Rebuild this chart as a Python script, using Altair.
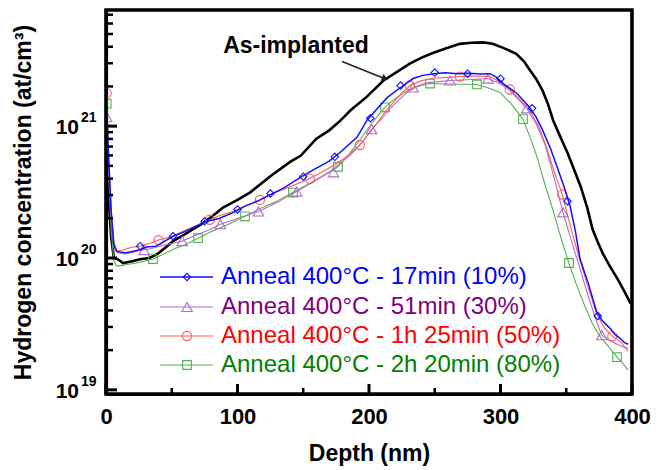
import altair as alt
import pandas as pd

FONT = "Liberation Sans"

# ---------------- data (depth in nm, log10 of concentration in at/cm3) ----------------
asimp_depth = [0.5, 2, 4, 6, 9, 13, 20, 26, 33, 39, 46, 51, 60, 71, 80, 89, 100, 110, 115, 125,
               140, 148, 160, 170, 178, 186, 198, 211, 221, 231, 240, 249, 260, 269, 278, 287, 294,
               303, 312, 318, 322, 327, 332, 336, 340, 345, 351, 356, 361, 366, 370, 374, 378, 383,
               389, 394, 399]
asimp_log = [20.85, 20.45, 20.15, 20.0, 19.99, 19.962, 19.975, 19.99, 20.0, 20.03, 20.085, 20.128,
             20.18, 20.248, 20.31, 20.383, 20.44, 20.5, 20.541, 20.62, 20.729, 20.775, 20.905, 20.97,
             21.04, 21.12, 21.22, 21.346, 21.41, 21.474, 21.52, 21.556, 21.595, 21.624, 21.632,
             21.635, 21.625, 21.59, 21.549, 21.49, 21.43, 21.36, 21.27, 21.17, 21.045, 20.93, 20.797,
             20.67, 20.541, 20.38, 20.218, 20.12, 20.03, 19.94, 19.842, 19.75, 19.654]

a17_depth = [0.5, 2, 4, 6, 8, 10.6, 15, 20, 25, 31, 38, 45, 51, 60, 68, 77, 86, 97, 105, 115, 125,
             135, 147.5, 158, 170, 178, 186, 191, 198.5, 206, 214, 224, 233.5, 241, 249, 258, 267,
             276, 285, 292, 297, 302, 312.5, 322, 327, 332, 338, 343, 348, 353, 357, 360.5, 367,
             373, 377, 381, 384, 387, 391, 394, 397]
a17_log = [21.15, 20.75, 20.35, 20.1, 20.05, 20.045, 20.04, 20.05, 20.06, 20.083, 20.09, 20.13,
           20.165, 20.2, 20.24, 20.278, 20.3, 20.346, 20.39, 20.43, 20.481, 20.53, 20.609, 20.67,
           20.737, 20.8, 20.872, 20.917, 21.045, 21.13, 21.218, 21.293, 21.361, 21.385, 21.398,
           21.405, 21.398, 21.402, 21.395, 21.398, 21.37, 21.323, 21.248, 21.143, 21.07, 20.97,
           20.83, 20.692, 20.55, 20.391, 20.2, 19.992, 19.8, 19.594, 19.53, 19.489, 19.46, 19.42,
           19.391, 19.36, 19.346]

a51_depth = [0.5, 2, 4, 6, 9, 14, 20, 26, 33, 41, 50, 58, 70, 80, 87, 100, 116, 130, 145, 158, 170,
             178, 186, 195, 202, 210, 216, 225, 233.5, 245, 261.6, 275, 290.5, 300, 307, 314, 320,
             327, 334, 341, 347.5, 354, 360.5, 367, 373, 377, 382, 387, 392, 397]
a51_log = [21.07, 20.7, 20.3, 20.08, 20.04, 20.03, 20.04, 20.06, 20.068, 20.09, 20.11, 20.128,
           20.18, 20.22, 20.256, 20.3, 20.353, 20.42, 20.504, 20.58, 20.654, 20.72, 20.782, 20.88,
           20.977, 21.06, 21.135, 21.22, 21.293, 21.33, 21.346, 21.352, 21.361, 21.32, 21.271,
           21.2, 21.135, 21.02, 20.857, 20.6, 20.346, 20.13, 19.917, 19.7, 19.52, 19.414, 19.38,
           19.353, 19.33, 19.316]

a85_depth = [0.5, 2, 4, 6, 8.4, 13, 19, 26, 33, 41, 49, 58, 71.5, 79, 86, 96.6, 107, 117, 125, 140,
             153, 162, 170, 182, 193, 203, 212, 222, 231, 240, 250, 260, 269, 280, 292, 300, 307,
             315, 322, 329, 335, 341, 347, 353, 359, 366, 373, 379, 385, 388, 391, 394, 397]
a85_log = [21.25, 20.8, 20.35, 20.12, 20.053, 20.06, 20.08, 20.09, 20.11, 20.14, 20.158, 20.2,
           20.256, 20.29, 20.32, 20.353, 20.4, 20.44, 20.481, 20.54, 20.594, 20.64, 20.684, 20.76,
           20.857, 20.98, 21.105, 21.22, 21.308, 21.345, 21.365, 21.37, 21.376, 21.38, 21.376,
           21.33, 21.278, 21.2, 21.12, 21.0, 20.84, 20.65, 20.481, 20.25, 20.03, 19.8, 19.579,
           19.47, 19.406, 19.39, 19.368, 19.33, 19.293]

a140_depth = [0.5, 2, 4, 6, 8, 10.6, 16, 22, 29, 35.7, 44, 52, 60, 70, 80, 92, 105.7, 118, 130, 142,
              152, 162.7, 170, 176.4, 185, 193, 202, 212, 220, 227, 237, 246, 260, 270, 282, 291,
              299.6, 308, 317, 322, 328, 334, 340, 346, 352, 358, 364, 370, 376, 382, 388.6, 393, 397]
a140_log = [21.17, 20.65, 20.2, 19.98, 19.94, 19.94, 19.95, 19.96, 19.975, 19.992, 20.03, 20.07,
            20.1, 20.15, 20.2, 20.25, 20.316, 20.38, 20.43, 20.496, 20.55, 20.609, 20.65, 20.692,
            20.79, 20.895, 21.02, 21.143, 21.21, 21.256, 21.3, 21.323, 21.32, 21.318, 21.316,
            21.29, 21.256, 21.17, 21.053, 20.93, 20.76, 20.55, 20.36, 20.15, 19.962, 19.79, 19.64,
            19.5, 19.4, 19.33, 19.248, 19.2, 19.15]

# marker positions
m17_depth = [26, 51, 75, 100, 125, 150, 174, 201, 224, 250, 275, 300, 324, 351, 374]
m17_log = [20.09, 20.165, 20.278, 20.368, 20.489, 20.617, 20.767, 21.06, 21.308, 21.406, 21.398,
           21.36, 21.135, 20.43, 19.56]
m51_depth = [0.5, 29, 58, 87, 116, 145, 173, 202, 233.5, 261.6, 290.5, 320, 347.5, 377]
m51_log = [21.07, 20.06, 20.128, 20.256, 20.353, 20.504, 20.65, 20.977, 21.293, 21.346, 21.361,
           21.135, 20.346, 19.414]
m85_depth = [0.5, 40, 79, 117, 155, 193, 231, 269, 307, 347, 385]
m85_log = [21.25, 20.135, 20.29, 20.44, 20.6, 20.857, 21.308, 21.376, 21.278, 20.481, 19.406]
m140_depth = [0.5, 35.7, 70, 105.7, 142.2, 176.4, 212.2, 246.4, 282.1, 317.1, 352.1, 388.6]
m140_log = [21.17, 19.992, 20.15, 20.316, 20.496, 20.692, 21.143, 21.323, 21.316, 21.053, 19.962,
            19.248]

legend_labels = ["Anneal 400°C - 17min (10%)", "Anneal 400°C - 51min (30%)",
                 "Anneal 400°C - 1h 25min (50%)", "Anneal 400°C - 2h 20min (80%)"]
text_colors = ["#0000ff", "#800080", "#ff0000", "#008000"]
line_colors = ["#1010ff", "#b36bd0", "#ff5a5a", "#55b055"]
shapes = ["diamond", "triangle-up", "circle", "square"]
shape_sizes = [55, 110, 85, 75]
line_widths = [1.5, 1.1, 1.1, 1.1]

x_ticks_major = [0, 100, 200, 300, 400]
x_ticks_minor = [50, 150, 250, 350]
y_major = [1e19, 1e20, 1e21]
y_exponents = ["19", "20", "21"]
y_minor = [k * 10.0 ** n for n in (19, 20, 21) for k in range(2, 10) if k * 10.0 ** n < 7.6e21]

annot_text = ["As-implanted"]
annot_depth = [144.5]
annot_log = [21.61]
arrow_depth = [179.5]
arrow_log = [21.49]
arrow_depth2 = [212.2]
arrow_log2 = [21.36]

# ---------------- helpers ----------------
W, H = 526, 384
xs = alt.Scale(domain=[0, 400], nice=False, zero=False)
ys = alt.Scale(type="log", domain=[9.3e18, 7.6e21], nice=False)

x_axis = alt.Axis(title="Depth (nm)", values=x_ticks_major, ticks=False,
                  domain=True, domainColor="black", domainWidth=3.2, grid=False,
                  labelFont=FONT, labelFontSize=22, labelFontWeight="bold", labelColor="black",
                  labelPadding=22, labelBaseline="middle", labelFlush=False, labelOverlap=False,
                  format="d",
                  titleFont=FONT, titleFontSize=23, titleFontWeight="bold", titleColor="black",
                  titleY=59, titleBaseline="middle")
y_axis = alt.Axis(title="Hydrogen concentration (at/cm³)", labels=False, ticks=False,
                  domain=True, domainColor="black", domainWidth=3.2, grid=False,
                  titleFont=FONT, titleFontSize=23,
                  titleFontWeight="bold", titleColor="black", titleX=-83, titleY=192,
                  titleAngle=270, titleAlign="center", titleBaseline="middle")


def X(field="depth"):
    return alt.X(f"{field}:Q", scale=xs, axis=x_axis)


def Y(field="conc"):
    return alt.Y(f"{field}:Q", scale=ys, axis=y_axis)


def frame(d, L):
    return pd.DataFrame({"depth": d, "conc": [10 ** v for v in L]})


layers = []

# As-implanted
layers.append(alt.Chart(frame(asimp_depth, asimp_log)).mark_line(
    color="black", strokeWidth=2.6, clip=True).encode(x=X(), y=Y()))

series = [(a17_depth, a17_log, m17_depth, m17_log),
          (a51_depth, a51_log, m51_depth, m51_log),
          (a85_depth, a85_log, m85_depth, m85_log),
          (a140_depth, a140_log, m140_depth, m140_log)]

for i in [3, 1, 2, 0]:
    d, L, md, mL = series[i]
    layers.append(alt.Chart(frame(d, L)).mark_line(
        color=line_colors[i], strokeWidth=line_widths[i], clip=True).encode(x=X(), y=Y()))
    layers.append(alt.Chart(frame(md, mL)).mark_point(
        shape=shapes[i], filled=False, size=shape_sizes[i], color=line_colors[i],
        strokeWidth=1.1, opacity=1, clip=True).encode(x=X(), y=Y()))

# ticks (inward)
layers.append(alt.Chart(pd.DataFrame({"conc": y_major})).mark_rule(
    color="black", strokeWidth=3).encode(y=Y(), x=alt.value(0), x2=alt.value(11)))
layers.append(alt.Chart(pd.DataFrame({"conc": y_minor})).mark_rule(
    color="black", strokeWidth=2.5).encode(y=Y(), x=alt.value(0), x2=alt.value(7)))
layers.append(alt.Chart(pd.DataFrame({"depth": x_ticks_major})).mark_rule(
    color="black", strokeWidth=3).encode(x=X(), y=alt.value(H - 10), y2=alt.value(H)))
layers.append(alt.Chart(pd.DataFrame({"depth": x_ticks_minor})).mark_rule(
    color="black", strokeWidth=2.5).encode(x=X(), y=alt.value(H - 6), y2=alt.value(H)))

# plot frame (thick box)
box = pd.DataFrame({"k": [0]})
layers.append(alt.Chart(box).mark_rect(
    fill="transparent", fillOpacity=0, stroke="black", strokeWidth=3.2).encode(
    x=alt.value(0), x2=alt.value(W), y=alt.value(0), y2=alt.value(H)))

# y tick labels 10^n
ylab = pd.DataFrame({"conc": y_major, "base": ["10"] * 3, "exp": y_exponents})
layers.append(alt.Chart(ylab).mark_text(
    font=FONT, fontSize=21, fontWeight="bold", align="right", baseline="middle", dy=2,
    color="black").encode(y=Y(), x=alt.value(-27), text="base:N"))
layers.append(alt.Chart(ylab).mark_text(
    font=FONT, fontSize=14, fontWeight="bold", align="left", baseline="middle", dy=-8,
    color="black").encode(y=Y(), x=alt.value(-25), text="exp:N"))

# annotation
ann = pd.DataFrame({"depth": annot_depth, "conc": [10 ** v for v in annot_log],
                    "label": annot_text})
layers.append(alt.Chart(ann).mark_text(
    font=FONT, fontSize=23, fontWeight="bold", color="black", align="center",
    baseline="middle").encode(x=X(), y=Y(), text="label:N"))
arr = pd.DataFrame({"depth": arrow_depth, "conc": [10 ** v for v in arrow_log],
                    "depth2": arrow_depth2, "conc2": [10 ** v for v in arrow_log2]})
layers.append(alt.Chart(arr).mark_rule(color="#222222", strokeWidth=1.6).encode(
    x=X(), y=Y(), x2="depth2:Q", y2="conc2:Q"))
layers.append(alt.Chart(arr).mark_point(
    shape="triangle-right", filled=True, size=55, angle=22, color="#222222",
    opacity=1).encode(x=X("depth2"), y=Y("conc2")))

# legend
leg_y = [267, 297, 326, 355]
for i in range(4):
    one = pd.DataFrame({"label": [legend_labels[i]]})
    layers.append(alt.Chart(one).mark_rule(color=line_colors[i], strokeWidth=line_widths[i]).encode(
        x=alt.value(54), x2=alt.value(107), y=alt.value(leg_y[i])))
    layers.append(alt.Chart(one).mark_point(
        shape=shapes[i], filled=False, size=shape_sizes[i], color=line_colors[i],
        strokeWidth=1.1, opacity=1).encode(x=alt.value(81), y=alt.value(leg_y[i])))
    layers.append(alt.Chart(one).mark_text(
        font=FONT, fontSize=24, align="left", baseline="middle", color=text_colors[i]).encode(
        x=alt.value(115), y=alt.value(leg_y[i]), text="label:N"))

chart = alt.layer(*layers).properties(
    width=W, height=H,
    autosize=alt.AutoSizeParams(type="none"),
    padding={"left": 98, "top": 2, "right": 20, "bottom": 76},
).configure(
    font=FONT, background="white",
    view=alt.ViewConfig(stroke="black", strokeWidth=3),
)

chart.save("out.html", embed_options={"renderer": "svg", "actions": False})
